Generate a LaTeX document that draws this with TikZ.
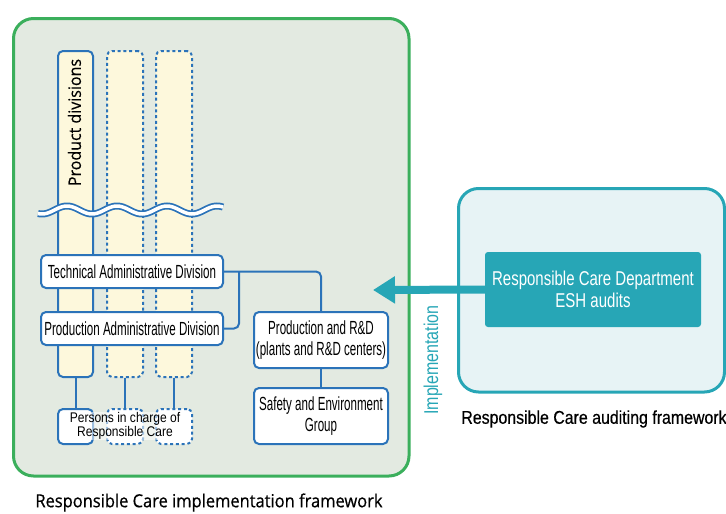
\documentclass[tikz,border=0pt]{standalone}
\usepackage{fontspec}
\setmainfont{Liberation Sans}
\newfontfamily\cnA{Liberation Sans}[FakeStretch=0.61]
\newfontfamily\cnD{Liberation Sans}[FakeStretch=0.75]
\newfontfamily\cnR{Liberation Sans}[FakeStretch=0.86,FakeBold=0.5]
\newfontfamily\cnP{Liberation Sans}[FakeStretch=0.86]
\newfontfamily\cnI{Liberation Sans}[FakeStretch=0.8]
\newfontfamily\hum{Open Sans}[FakeStretch=0.915,FakeBold=0.6]
\newfontfamily\humP{Open Sans}[FakeStretch=0.94,FakeBold=0.4]
\usetikzlibrary{arrows.meta}
\definecolor{gstroke}{HTML}{3BAF5C}
\definecolor{gfill}{HTML}{E3EAE1}
\definecolor{blu}{HTML}{2B73B9}
\definecolor{ylw}{HTML}{FDF8DC}
\definecolor{teal1}{HTML}{27A6B6}
\definecolor{tfill}{HTML}{E7F3F5}
\tikzset{
  col/.style={draw=blu, fill=ylw, line width=2pt, rounded corners=5pt, inner sep=0pt},
  dcol/.style={col, dash pattern=on 3pt off 2.8pt},
  bx/.style={draw=blu, fill=white, line width=2pt, rounded corners=5pt, inner sep=0pt, align=center},
  dbx/.style={bx, dash pattern=on 3pt off 2.8pt},
  conn/.style={draw=blu, line width=2pt, rounded corners=5pt},
  boxtext/.style={font=\cnA\fontsize{19}{21}\selectfont},
}
\begin{document}
\begin{tikzpicture}[x=1pt,y=-1pt]
\useasboundingbox (0,0) rectangle (726,514);
% frames
\draw[gstroke, line width=3pt, fill=gfill, rounded corners=20pt] (13.5,18.5) rectangle (409,476);
\draw[teal1, line width=3pt, fill=tfill, rounded corners=20pt] (458.5,188.5) rectangle (724.5,392);
% columns
\node[col, minimum width=35pt, minimum height=326pt] (c1) at (75.5,214) {};
\node[dcol, minimum width=36pt, minimum height=326pt] (c2) at (125,214) {};
\node[dcol, minimum width=36pt, minimum height=326pt] (c3) at (174,214) {};
\node[rotate=90, font=\humP\fontsize{17}{20}\selectfont] (pd) at (74.5,122.5) {Product divisions};
% wave
\draw[blu, line width=7pt] plot[domain=38:223, samples=120, smooth] (\x, {210 - 4*sin((\x-67)/50*360+90)});
\draw[white, line width=3.5pt] plot[domain=38:223, samples=120, smooth] (\x, {210 - 4*sin((\x-67)/50*360+90)});
% boxes
\node[bx, boxtext, minimum width=182pt, minimum height=33pt] (tad) at (132,271.5) {Technical Administrative Division};
\node[bx, boxtext, minimum width=182pt, minimum height=33pt] (pad) at (132,328.5) {Production Administrative Division};
\node[bx, boxtext, minimum width=134pt, minimum height=56pt] (prd) at (321,340) {Production and R\&D\\(plants and R\&D centers)};
\node[bx, boxtext, minimum width=134pt, minimum height=56pt] (seg) at (321,416) {Safety and Environment\\Group};
\node[bx, minimum width=35pt, minimum height=35pt] (p1) at (75.5,426.5) {};
\node[dbx, minimum width=36pt, minimum height=35pt] (p2) at (125,426.5) {};
\node[dbx, minimum width=36pt, minimum height=35pt] (p3) at (174,426.5) {};
\node[font=\cnP\fontsize{14}{12}\selectfont, align=center, fill=white, fill opacity=0.55, text opacity=1, inner sep=0.5pt] (pt) at (125,426) {Persons in charge of\\Responsible Care};
% connectors
\coordinate (j) at (239,271.5);
\draw[conn] (tad.east) -| (prd.north);
\draw[conn] (j) |- (pad.east);
\draw[conn] (prd.south) -- (seg.north);
\draw[conn] (c1.south) -- (p1.north);
\draw[conn] (c2.south) -- (p2.north);
\draw[conn] (c3.south) -- (p3.north);
% auditing
\node[fill=teal1, rounded corners=3pt, minimum width=216pt, minimum height=75pt, align=center, text=white, font=\cnD\fontsize{20}{21.5}\selectfont] (dep) at (593,289.5) {Responsible Care Department\\ESH audits};
\coordinate (tip) at (373,290);
\draw[teal1, line width=8pt, -{Triangle[length=22pt,width=26pt]}] (dep.west) -- (tip);
\node[rotate=90, text=teal1, font=\cnI\fontsize{20}{24}\selectfont] (impl) at (433,360) {Implementation};
\node[font=\cnR\fontsize{18.5}{22}\selectfont] (cap2) at (594,419) {Responsible Care auditing framework};
\node[font=\hum\fontsize{18}{22}\selectfont] (cap1) at (209,502.5) {Responsible Care implementation framework};
\end{tikzpicture}
\end{document}
